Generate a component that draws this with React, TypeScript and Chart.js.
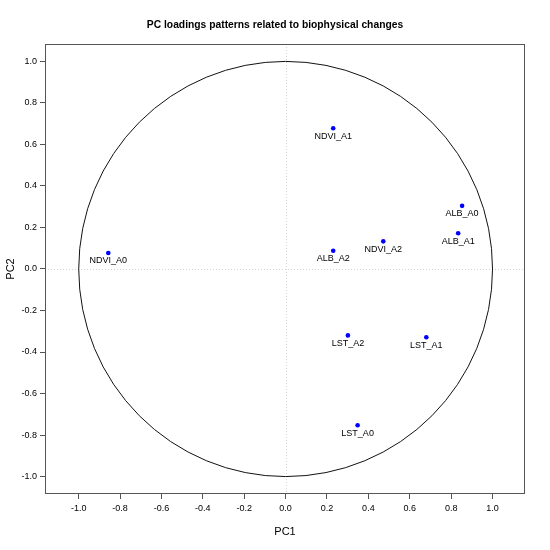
import React, { useEffect, useRef } from "react";
import { Chart, registerables } from "chart.js";

Chart.register(...registerables);

const variableNames = ["NDVI_A0", "NDVI_A1", "NDVI_A2", "ALB_A0", "ALB_A1", "ALB_A2", "LST_A0", "LST_A1", "LST_A2"];
const pc1Values = [-0.857, 0.23, 0.472, 0.853, 0.834, 0.23, 0.348, 0.68, 0.301];
const pc2Values = [0.077, 0.678, 0.133, 0.304, 0.172, 0.088, -0.753, -0.329, -0.32];
const tickValues = [-1.0, -0.8, -0.6, -0.4, -0.2, 0.0, 0.2, 0.4, 0.6, 0.8, 1.0];

const FONT = "'Liberation Sans', Arial, Helvetica, sans-serif";

const framePlugin = {
  id: "frame",
  beforeDatasetsDraw(chart: any) {
    const { ctx, chartArea } = chart;
    const xs = chart.scales.x;
    const ys = chart.scales.y;
    const cx = xs.getPixelForValue(0);
    const cy = ys.getPixelForValue(0);
    ctx.save();
    ctx.strokeStyle = "#d4d4d4";
    ctx.lineWidth = 1;
    ctx.setLineDash([1, 2]);
    ctx.beginPath();
    ctx.moveTo(Math.round(cx) + 0.5, chartArea.top);
    ctx.lineTo(Math.round(cx) + 0.5, chartArea.bottom);
    ctx.moveTo(chartArea.left, Math.round(cy) + 0.5);
    ctx.lineTo(chartArea.right, Math.round(cy) + 0.5);
    ctx.stroke();
    ctx.setLineDash([]);
    const rx = xs.getPixelForValue(1) - cx;
    const ry = cy - ys.getPixelForValue(1);
    ctx.strokeStyle = "#111";
    ctx.lineWidth = 1;
    ctx.beginPath();
    ctx.ellipse(cx, cy, rx, ry, 0, 0, Math.PI * 2);
    ctx.stroke();
    ctx.restore();
  },
  afterDatasetsDraw(chart: any) {
    const { ctx } = chart;
    const meta = chart.getDatasetMeta(0);
    ctx.save();
    ctx.fillStyle = "#000";
    ctx.font = `9px ${FONT}`;
    ctx.textAlign = "center";
    ctx.textBaseline = "middle";
    meta.data.forEach((pt: any, i: number) => {
      ctx.fillText(variableNames[i], pt.x, pt.y + 8);
    });
    ctx.restore();
  },
  afterDraw(chart: any) {
    const { ctx, chartArea } = chart;
    ctx.save();
    ctx.strokeStyle = "#555";
    ctx.lineWidth = 1;
    ctx.strokeRect(
      Math.round(chartArea.left) + 0.5,
      Math.round(chartArea.top) + 0.5,
      Math.round(chartArea.right - chartArea.left) - 1,
      Math.round(chartArea.bottom - chartArea.top) - 1
    );
    ctx.restore();
  },
};

export default function App() {
  const canvasRef = useRef<HTMLCanvasElement | null>(null);

  useEffect(() => {
    if (!canvasRef.current) return;
    const data = pc1Values.map((x, i) => ({ x, y: pc2Values[i] }));
    const setTicks = (axis: any) => {
      axis.ticks = tickValues.map((v) => ({ value: v }));
    };
    const chart = new Chart(canvasRef.current, {
      type: "scatter",
      data: {
        datasets: [
          {
            data,
            backgroundColor: "#0000ff",
            borderWidth: 0,
            pointRadius: 2.3,
            pointHoverRadius: 2.3,
          },
        ],
      },
      options: {
        responsive: false,
        animation: false,
        devicePixelRatio: 1,
        layout: { padding: 0 },
        plugins: {
          legend: { display: false },
          tooltip: { enabled: false },
          title: {
            display: true,
            text: "PC loadings patterns related to biophysical changes",
            color: "#000",
            font: { family: FONT, size: 10.3, weight: "bold" },
            padding: { top: 18.5, bottom: 13.1 },
          },
        },
        scales: {
          x: {
            type: "linear",
            position: "bottom",
            min: -1.163,
            max: 1.157,
            afterBuildTicks: setTicks,
            afterFit: (s: any) => {
              s.height = 56;
            },
            ticks: {
              color: "#000",
              font: { family: FONT, size: 9 },
              padding: 4,
              maxRotation: 0,
              autoSkip: false,
              callback: (v: any) => Number(v).toFixed(1),
            },
            grid: { drawOnChartArea: false, drawTicks: true, tickLength: 5, tickColor: "#555", color: "#555" },
            border: { display: false },
            title: {
              display: true,
              text: "PC1",
              color: "#000",
              font: { family: FONT, size: 11 },
              padding: { top: 0, bottom: 11 },
            },
          },
          y: {
            type: "linear",
            position: "left",
            min: -1.084,
            max: 1.084,
            afterBuildTicks: setTicks,
            afterFit: (s: any) => {
              s.width = 45;
            },
            ticks: {
              color: "#000",
              font: { family: FONT, size: 9 },
              padding: 3,
              autoSkip: false,
              callback: (v: any) => Number(v).toFixed(1),
            },
            grid: { drawOnChartArea: false, drawTicks: true, tickLength: 5, tickColor: "#555", color: "#555" },
            border: { display: false },
            title: {
              display: true,
              text: "PC2",
              color: "#000",
              font: { family: FONT, size: 11 },
              padding: { top: 4, bottom: 0 },
            },
          },
          yRightSpace: {
            type: "linear",
            position: "right",
            display: true,
            afterFit: (s: any) => {
              s.width = 25;
            },
            ticks: { display: false },
            grid: { display: false, drawTicks: false },
            border: { display: false },
          },
        },
      },
      plugins: [framePlugin],
    } as any);
    return () => chart.destroy();
  }, []);

  return (
    <div style={{ position: "absolute", left: 0, top: 0, width: 550, height: 550, background: "#fff" }}>
      <canvas ref={canvasRef} width={550} height={550} />
    </div>
  );
}
